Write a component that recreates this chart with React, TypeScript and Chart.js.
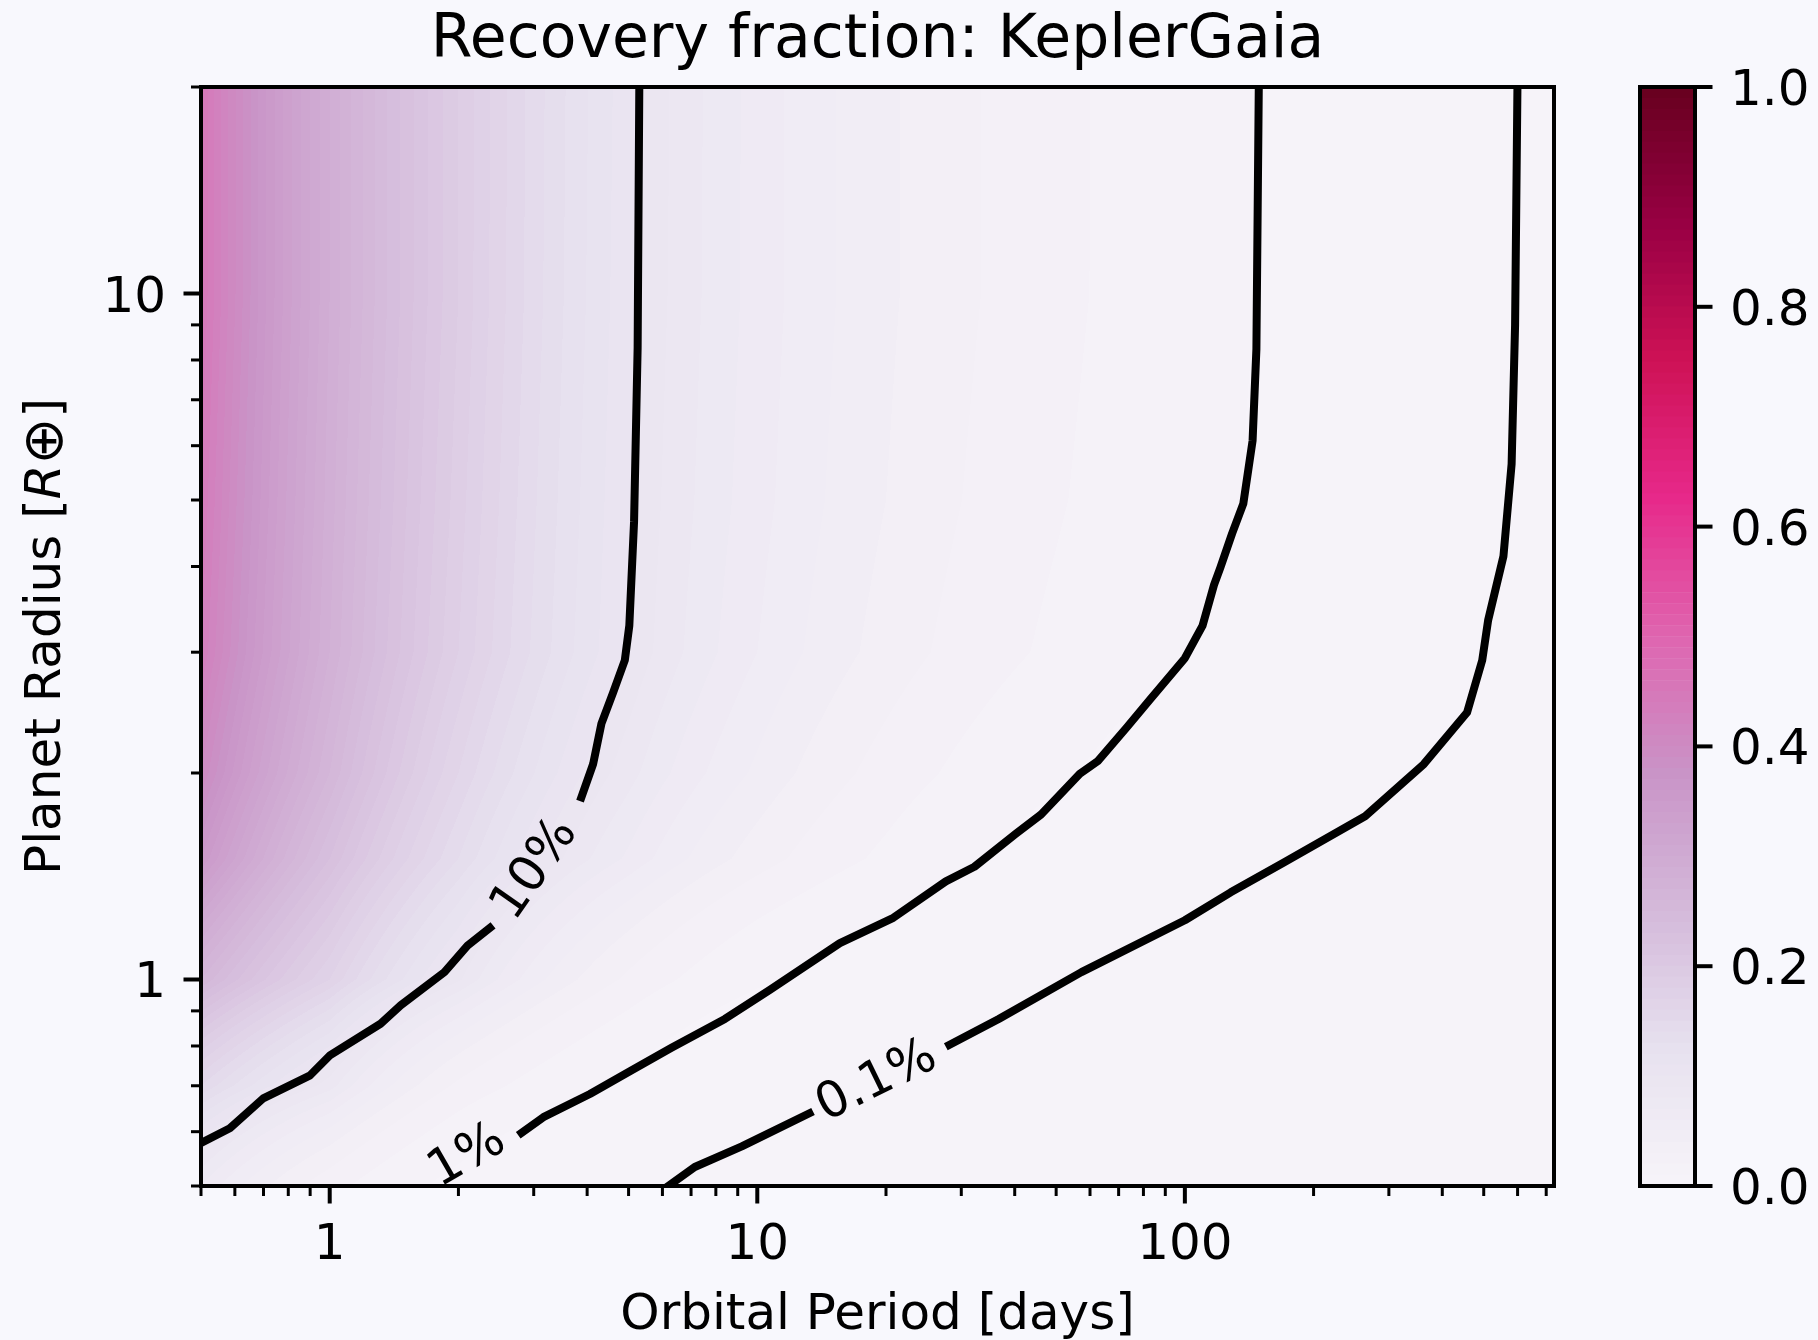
import React, { useEffect, useRef } from "react";
import { Chart, registerables } from "chart.js";

Chart.register(...registerables);

// ---------------- data ----------------
const chartTitle = "Recovery fraction: KeplerGaia";
const xAxisTitle = "Orbital Period [days]";

const periodGrid = [0.5, 1, 2, 5, 10, 20, 50, 100, 150, 200, 300, 450, 600, 730];
const radiusGrid = [0.5, 0.7, 1, 1.5, 2, 3, 5, 10, 20];

const recoveryR0p5 = [0.07, 0.024, 0.0075, 0.0013, 0.0004, 0.00015, 0.00004, 0.00002, 0.00002, 0.00002, 0.00002, 0.00002, 0.00001, 0.00001];
const recoveryR0p7 = [0.15, 0.085, 0.028, 0.0085, 0.0022, 0.0009, 0.0002, 0.00006, 0.00004, 0.00003, 0.00002, 0.00002, 0.00001, 0.00001];
const recoveryR1 = [0.26, 0.17, 0.092, 0.028, 0.0115, 0.0055, 0.00105, 0.0004, 0.0002, 0.00012, 0.00006, 0.00003, 0.00002, 0.00001];
const recoveryR1p5 = [0.36, 0.23, 0.14, 0.068, 0.035, 0.018, 0.0065, 0.0022, 0.0012, 0.00085, 0.0004, 0.00018, 0.0001, 0.00005];
const recoveryR2 = [0.4, 0.26, 0.16, 0.084, 0.048, 0.026, 0.0112, 0.0056, 0.0036, 0.0025, 0.0014, 0.0006, 0.00025, 0.0001];
const recoveryR3 = [0.43, 0.28, 0.18, 0.099, 0.06, 0.036, 0.018, 0.0102, 0.0073, 0.0055, 0.0033, 0.0016, 0.0006, 0.0002];
const recoveryR5 = [0.44, 0.285, 0.185, 0.101, 0.064, 0.04, 0.021, 0.0125, 0.0092, 0.0072, 0.005, 0.0033, 0.0009, 0.00035];
const recoveryR10 = [0.45, 0.29, 0.19, 0.103, 0.066, 0.042, 0.023, 0.0134, 0.0098, 0.0077, 0.0054, 0.0034, 0.00097, 0.0004];
const recoveryR20 = [0.45, 0.29, 0.19, 0.104, 0.066, 0.042, 0.023, 0.0135, 0.0099, 0.0078, 0.0055, 0.0035, 0.001, 0.0004];

// contour lines [period, radius]
const contour10Lower = [[0.49, 0.574], [0.584, 0.607], [0.699, 0.671], [0.9, 0.725], [1.003, 0.776], [1.315, 0.862], [1.466, 0.917], [1.855, 1.025], [2.1, 1.12], [2.41, 1.199]];
const contour10Upper = [[3.85, 1.82], [4.13, 2.06], [4.32, 2.36], [4.6, 2.62], [4.9, 2.92], [5.02, 3.28], [5.15, 4.65], [5.25, 8.33], [5.3, 21]];
const contour1 = [[2.76, 0.593], [3.16, 0.63], [4.06, 0.681], [5.06, 0.736], [6.3, 0.795], [8.4, 0.876], [10.7, 0.966], [15.6, 1.13], [20.8, 1.23], [27.6, 1.39], [32.2, 1.46], [40.2, 1.63], [46.1, 1.74], [56.8, 1.995], [62.5, 2.08], [73.1, 2.33], [82.9, 2.56], [100, 2.94], [110, 3.28], [117, 3.76], [121, 3.98], [129, 4.47], [137, 4.94], [144, 6.1], [147, 8.3], [149, 21]];
const contour01Lower = [[5.92, 0.49], [7.14, 0.533], [9.2, 0.571], [13.5, 0.642]];
const contour01Upper = [[27.6, 0.798], [36.7, 0.876], [57.3, 1.025], [100, 1.22], [128, 1.34], [170, 1.48], [264, 1.73], [362, 2.06], [457, 2.45], [496, 2.92], [512, 3.34], [556, 4.14], [581, 5.64], [592, 9.0], [600, 21]];

const contourLabelTexts = ["10%", "1%", "0.1%"];
const contourLabelAnchors = [[3.03, 1.446], [2.1, 0.552], [19.05, 0.709]];

const xMajorTicks = [1, 10, 100];
const xMajorLabels = ["1", "10", "100"];
const xMinorTicks = [0.5, 0.6, 0.7, 0.8, 0.9, 2, 3, 4, 5, 6, 7, 8, 9, 20, 30, 40, 50, 60, 70, 80, 90, 200, 300, 400, 500, 600, 700];
const yMajorTicks = [1, 10];
const yMajorLabels = ["1", "10"];
const yMinorTicks = [0.5, 0.6, 0.7, 0.8, 0.9, 2, 3, 4, 5, 6, 7, 8, 9, 20];
const cbarTicks = [0, 0.2, 0.4, 0.6, 0.8, 1.0];
const cbarTickLabels = ["0.0", "0.2", "0.4", "0.6", "0.8", "1.0"];

const puRdColors = ["#f7f4f9", "#e7e1ef", "#d4b9da", "#c994c7", "#df65b0", "#e7298a", "#ce1256", "#980043", "#67001f"];
const nLevels = 100;

// ---------------- helpers ----------------
const recoveryRows = [recoveryR0p5, recoveryR0p7, recoveryR1, recoveryR1p5, recoveryR2, recoveryR3, recoveryR5, recoveryR10, recoveryR20];
const FONT = '"DejaVu Sans", sans-serif';
const BG = "#f8f8fd";

function hexToRgb(h: string) {
  return [parseInt(h.slice(1, 3), 16), parseInt(h.slice(3, 5), 16), parseInt(h.slice(5, 7), 16)];
}
const cmapRgb = puRdColors.map(hexToRgb);
function cmap(v: number) {
  const p = Math.max(0, Math.min(1, v)) * (cmapRgb.length - 1);
  const i = Math.min(cmapRgb.length - 2, Math.floor(p));
  const t = p - i;
  const a = cmapRgb[i], b = cmapRgb[i + 1];
  return [0, 1, 2].map((k) => Math.round(a[k] + (b[k] - a[k]) * t));
}
const levelLut = Array.from({ length: nLevels }, (_, k) => cmap((k + 0.5) / nLevels));
const levelCss = levelLut.map((c) => `rgb(${c[0]},${c[1]},${c[2]})`);

function locate(arr: number[], v: number): [number, number] {
  const n = arr.length;
  if (v <= arr[0]) return [0, 0];
  if (v >= arr[n - 1]) return [n - 2, 1];
  let i = 0;
  while (i < n - 2 && v > arr[i + 1]) i++;
  return [i, (v - arr[i]) / (arr[i + 1] - arr[i])];
}

const heatmapPlugin = {
  id: "heatmap",
  beforeDatasetsDraw(chart: any) {
    const { ctx, chartArea: a, scales } = chart;
    const xs = scales.x, ys = scales.y;
    const L = Math.round(a.left), T = Math.round(a.top);
    const w = Math.round(a.right) - L, h = Math.round(a.bottom) - T;
    const lp = periodGrid.map(Math.log10);
    const lr = radiusGrid.map(Math.log10);
    const lf = recoveryRows.map((r) => r.map(Math.log10));
    const colI = new Int32Array(w), colT = new Float64Array(w);
    for (let c = 0; c < w; c++) {
      const v = Math.log10(xs.getValueForPixel(L + c + 0.5));
      const [i, t] = locate(lp, v);
      colI[c] = i; colT[c] = t;
    }
    const img = ctx.createImageData(w, h);
    const d = img.data;
    for (let r = 0; r < h; r++) {
      const v = Math.log10(ys.getValueForPixel(T + r + 0.5));
      const [ri, rt] = locate(lr, v);
      const r0 = lf[ri], r1 = lf[ri + 1];
      for (let c = 0; c < w; c++) {
        const j = colI[c], t = colT[c];
        const a0 = r0[j] + (r0[j + 1] - r0[j]) * t;
        const a1 = r1[j] + (r1[j + 1] - r1[j]) * t;
        const f = Math.pow(10, a0 + (a1 - a0) * rt);
        const lvl = Math.max(0, Math.min(nLevels - 1, Math.floor(f * nLevels)));
        const col = levelLut[lvl];
        const o = (r * w + c) * 4;
        d[o] = col[0]; d[o + 1] = col[1]; d[o + 2] = col[2]; d[o + 3] = 255;
      }
    }
    ctx.putImageData(img, L, T);
  },
};

const axesPlugin = {
  id: "mplAxes",
  afterDraw(chart: any) {
    const { ctx, chartArea: a, scales } = chart;
    const xs = scales.x, ys = scales.y;
    ctx.save();
    ctx.fillStyle = "#000";
    ctx.strokeStyle = "#000";

    // contour labels
    ctx.font = `50px ${FONT}`;
    ctx.textAlign = "center";
    ctx.textBaseline = "middle";
    const dirPairs = [
      [contour10Lower[contour10Lower.length - 1], contour10Upper[0]],
      [contour1[0], contour1[2]],
      [contour01Lower[contour01Lower.length - 1], contour01Upper[0]],
    ];
    contourLabelTexts.forEach((txt, k) => {
      const [p, r] = contourLabelAnchors[k];
      const [pa, pb] = dirPairs[k];
      const ang = Math.atan2(
        ys.getPixelForValue(pb[1]) - ys.getPixelForValue(pa[1]),
        xs.getPixelForValue(pb[0]) - xs.getPixelForValue(pa[0])
      );
      ctx.save();
      ctx.translate(xs.getPixelForValue(p), ys.getPixelForValue(r));
      ctx.rotate(ang);
      ctx.fillText(txt, 0, 0);
      ctx.restore();
    });

    // spines
    ctx.lineWidth = 4;
    ctx.strokeRect(a.left, a.top, a.right - a.left, a.bottom - a.top);

    // ticks
    const tick = (x1: number, y1: number, x2: number, y2: number, lw: number) => {
      ctx.lineWidth = lw;
      ctx.beginPath(); ctx.moveTo(x1, y1); ctx.lineTo(x2, y2); ctx.stroke();
    };
    xMinorTicks.forEach((v) => { const px = xs.getPixelForValue(v); tick(px, a.bottom, px, a.bottom + 10, 3); });
    xMajorTicks.forEach((v) => { const px = xs.getPixelForValue(v); tick(px, a.bottom, px, a.bottom + 17.5, 4); });
    yMinorTicks.forEach((v) => { const py = ys.getPixelForValue(v); tick(a.left, py, a.left - 10, py, 3); });
    yMajorTicks.forEach((v) => { const py = ys.getPixelForValue(v); tick(a.left, py, a.left - 17.5, py, 4); });

    // tick labels
    ctx.font = `50px ${FONT}`;
    ctx.textBaseline = "alphabetic";
    ctx.textAlign = "center";
    xMajorTicks.forEach((v, i) => ctx.fillText(xMajorLabels[i], xs.getPixelForValue(v), a.bottom + 35 + 38));
    ctx.textAlign = "right";
    yMajorTicks.forEach((v, i) => ctx.fillText(yMajorLabels[i], a.left - 35, ys.getPixelForValue(v) + 18));

    // axis titles
    ctx.textAlign = "center";
    ctx.fillText(xAxisTitle, (a.left + a.right) / 2, 1329);
    ctx.save();
    ctx.translate(60, (a.top + a.bottom) / 2);
    ctx.rotate(-Math.PI / 2);
    const segs = [
      { t: "Planet Radius [", f: `50px ${FONT}`, dy: 0 },
      { t: "R", f: `italic 50px ${FONT}`, dy: 0 },
      { t: "\u2295", f: `56px ${FONT}`, dy: 2 },
      { t: "]", f: `50px ${FONT}`, dy: 0 },
    ];
    let total = 0;
    const widths = segs.map((s) => { ctx.font = s.f; const w = ctx.measureText(s.t).width; total += w; return w; });
    let x0 = -total / 2;
    ctx.textAlign = "left";
    segs.forEach((s, i) => { ctx.font = s.f; ctx.fillText(s.t, x0, s.dy); x0 += widths[i]; });
    ctx.restore();

    // title
    ctx.font = `60px ${FONT}`;
    ctx.textAlign = "center";
    ctx.fillText(chartTitle, (a.left + a.right) / 2, 57);
    ctx.restore();
  },
};

const cbarPlugin = {
  id: "cbarAxes",
  afterDraw(chart: any) {
    const { ctx, chartArea: a, scales } = chart;
    const ys = scales.y;
    ctx.save();
    ctx.strokeStyle = "#000";
    ctx.fillStyle = "#000";
    ctx.lineWidth = 4;
    ctx.strokeRect(a.left, a.top, a.right - a.left, a.bottom - a.top);
    ctx.font = `50px ${FONT}`;
    ctx.textAlign = "left";
    ctx.textBaseline = "alphabetic";
    cbarTicks.forEach((v, i) => {
      const py = ys.getPixelForValue(v);
      ctx.beginPath(); ctx.moveTo(a.right, py); ctx.lineTo(a.right + 17.5, py); ctx.stroke();
      ctx.fillText(cbarTickLabels[i], a.right + 35, py + 18);
    });
    ctx.restore();
  },
};

export default function App() {
  const mainRef = useRef<HTMLCanvasElement | null>(null);
  const cbarRef = useRef<HTMLCanvasElement | null>(null);

  useEffect(() => {
    document.body.style.margin = "0";
    document.body.style.background = BG;
    const mkLine = (pts: number[][]) => ({
      data: pts.map(([x, y]) => ({ x, y })),
      borderColor: "#000",
      borderWidth: 8,
      pointRadius: 0,
      tension: 0,
      fill: false,
      borderJoinStyle: "round" as const,
      borderCapStyle: "butt" as const,
    });
    const main = new Chart(mainRef.current as HTMLCanvasElement, {
      type: "line",
      data: {
        datasets: [contour10Lower, contour10Upper, contour1, contour01Lower, contour01Upper].map(mkLine) as any,
      },
      options: {
        responsive: false,
        animation: false,
        devicePixelRatio: 1,
        events: [],
        layout: { padding: { left: 201, top: 87, right: 264, bottom: 154 } },
        scales: {
          x: { type: "logarithmic", min: 0.5, max: 730, display: false, bounds: "data" },
          y: { type: "logarithmic", min: 0.5, max: 20, display: false, bounds: "data" },
        },
        plugins: { legend: { display: false }, tooltip: { enabled: false } },
      } as any,
      plugins: [heatmapPlugin, axesPlugin],
    });

    const levelStarts = levelLut.map((_, k) => k / nLevels);
    const cbar = new Chart(cbarRef.current as HTMLCanvasElement, {
      type: "bar",
      data: {
        labels: ["cbar"],
        datasets: levelStarts.map((s, k) => ({
          data: [[s, s + 1 / nLevels]],
          backgroundColor: levelCss[k],
          borderWidth: 0,
          grouped: false,
          barPercentage: 1,
          categoryPercentage: 1,
        })) as any,
      },
      options: {
        responsive: false,
        animation: false,
        devicePixelRatio: 1,
        events: [],
        layout: { padding: { left: 40, top: 87, right: 123, bottom: 154 } },
        scales: {
          x: { type: "category", display: false },
          y: { type: "linear", min: 0, max: 1, display: false },
        },
        plugins: { legend: { display: false }, tooltip: { enabled: false } },
      } as any,
      plugins: [cbarPlugin],
    });

    return () => {
      main.destroy();
      cbar.destroy();
    };
  }, []);

  return (
    <div style={{ position: "relative", width: 1818, height: 1340, background: BG, overflow: "hidden" }}>
      <canvas ref={mainRef} width={1818} height={1340} style={{ position: "absolute", left: 0, top: 0, width: 1818, height: 1340 }} />
      <canvas ref={cbarRef} width={218} height={1340} style={{ position: "absolute", left: 1600, top: 0, width: 218, height: 1340 }} />
    </div>
  );
}
